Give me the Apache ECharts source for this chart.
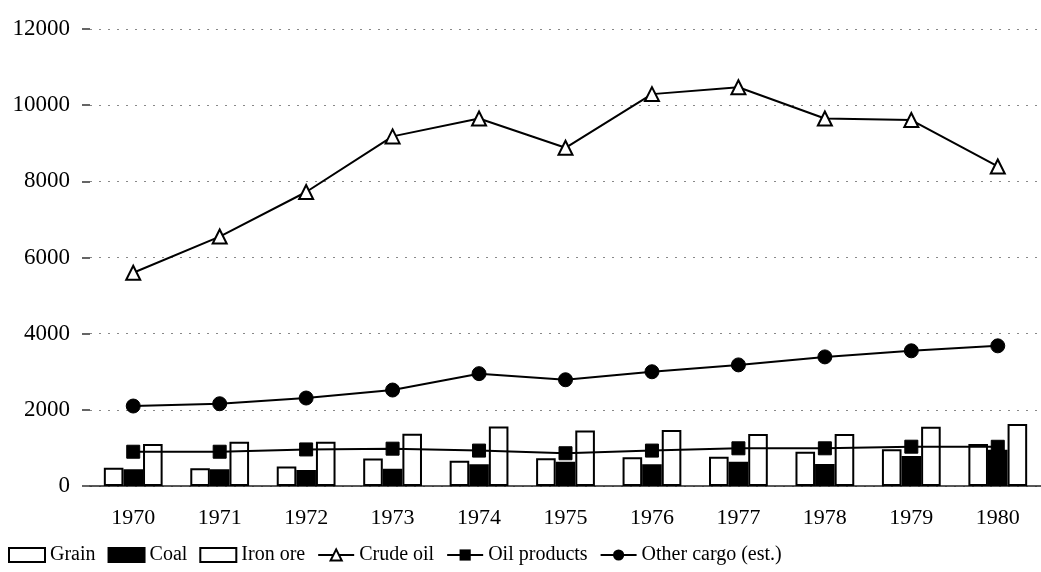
<!DOCTYPE html>
<html>
<head>
<meta charset="utf-8">
<script src="https://cdn.jsdelivr.net/npm/echarts@6/dist/echarts.min.js"></script>
<style>
  html, body { margin: 0; padding: 0; background: #fff; }
  #chart { width: 1041px; height: 572px; }
</style>
</head>
<body>
<div id="chart"></div>
<script>
var years = ['1970', '1971', '1972', '1973', '1974', '1975', '1976', '1977', '1978', '1979', '1980'];
var grain = [480, 465, 510, 720, 660, 730, 755, 770, 900, 965, 1100];
var coal = [440, 440, 420, 455, 570, 640, 570, 640, 580, 790, 950];
var ironOre = [1100, 1160, 1160, 1370, 1560, 1455, 1470, 1365, 1365, 1557, 1630];
var crudeOil = [5600, 6550, 7720, 9180, 9650, 8880, 10290, 10470, 9650, 9610, 8390];
var oilProducts = [900, 900, 960, 980, 930, 860, 930, 990, 990, 1032, 1030];
var otherCargo = [2100, 2160, 2310, 2520, 2950, 2790, 3000, 3180, 3390, 3550, 3680];

var serif = '"Liberation Serif", "DejaVu Serif", serif';

var barStyle = function (fill) {
    return { color: fill, borderColor: '#000', borderWidth: 2 };
};

var chart = echarts.init(document.getElementById('chart'));

chart.setOption({
    backgroundColor: '#fff',
    animation: false,
    grid: { left: 90, right: 0, top: 29, bottom: 86 },
    legend: {
        left: 3,
        top: 540,
        itemWidth: 36,
        itemHeight: 14,
        itemGap: 12,
        textStyle: { fontFamily: serif, fontSize: 20, color: '#000' },
        data: [
            { name: 'Grain', icon: 'rect' },
            { name: 'Coal', icon: 'rect' },
            { name: 'Iron ore', icon: 'rect' },
            'Crude oil', 'Oil products', 'Other cargo (est.)'
        ]
    },
    xAxis: {
        type: 'category',
        data: years,
        axisTick: { show: false },
        axisLine: { lineStyle: { color: '#222', width: 1.5 } },
        axisLabel: { margin: 21, fontFamily: serif, fontSize: 22, color: '#000' }
    },
    yAxis: {
        type: 'value',
        min: 0,
        max: 12000,
        interval: 2000,
        axisLine: { show: false },
        axisTick: { show: true, length: 8, lineStyle: { color: '#333', width: 1.5 } },
        axisLabel: {
            margin: 20, fontFamily: serif, fontSize: 23, color: '#000',
            formatter: function (v) { return String(v); }
        },
        splitLine: { show: true, lineStyle: { color: '#888', width: 1, type: [2, 7] } }
    },
    series: [
        {
            name: 'Grain', type: 'bar', data: grain,
            barGap: '0%', barCategoryGap: '32%',
            itemStyle: barStyle('#fff'), z: 2
        },
        {
            name: 'Coal', type: 'bar', data: coal,
            itemStyle: barStyle('#000'), z: 2
        },
        {
            name: 'Iron ore', type: 'bar', data: ironOre,
            itemStyle: barStyle('#fff'), z: 2
        },
        {
            name: 'Crude oil', type: 'line', data: crudeOil,
            symbol: 'triangle', symbolSize: 14,
            lineStyle: { color: '#000', width: 2 },
            itemStyle: { color: '#fff', borderColor: '#000', borderWidth: 2 },
            z: 5
        },
        {
            name: 'Oil products', type: 'line', data: oilProducts,
            symbol: 'rect', symbolSize: 13,
            lineStyle: { color: '#000', width: 2 },
            itemStyle: { color: '#000', borderColor: '#000' },
            z: 5
        },
        {
            name: 'Other cargo (est.)', type: 'line', data: otherCargo,
            symbol: 'circle', symbolSize: 14,
            lineStyle: { color: '#000', width: 2 },
            itemStyle: { color: '#000', borderColor: '#000' },
            z: 5
        }
    ]
});
</script>
</body>
</html>
